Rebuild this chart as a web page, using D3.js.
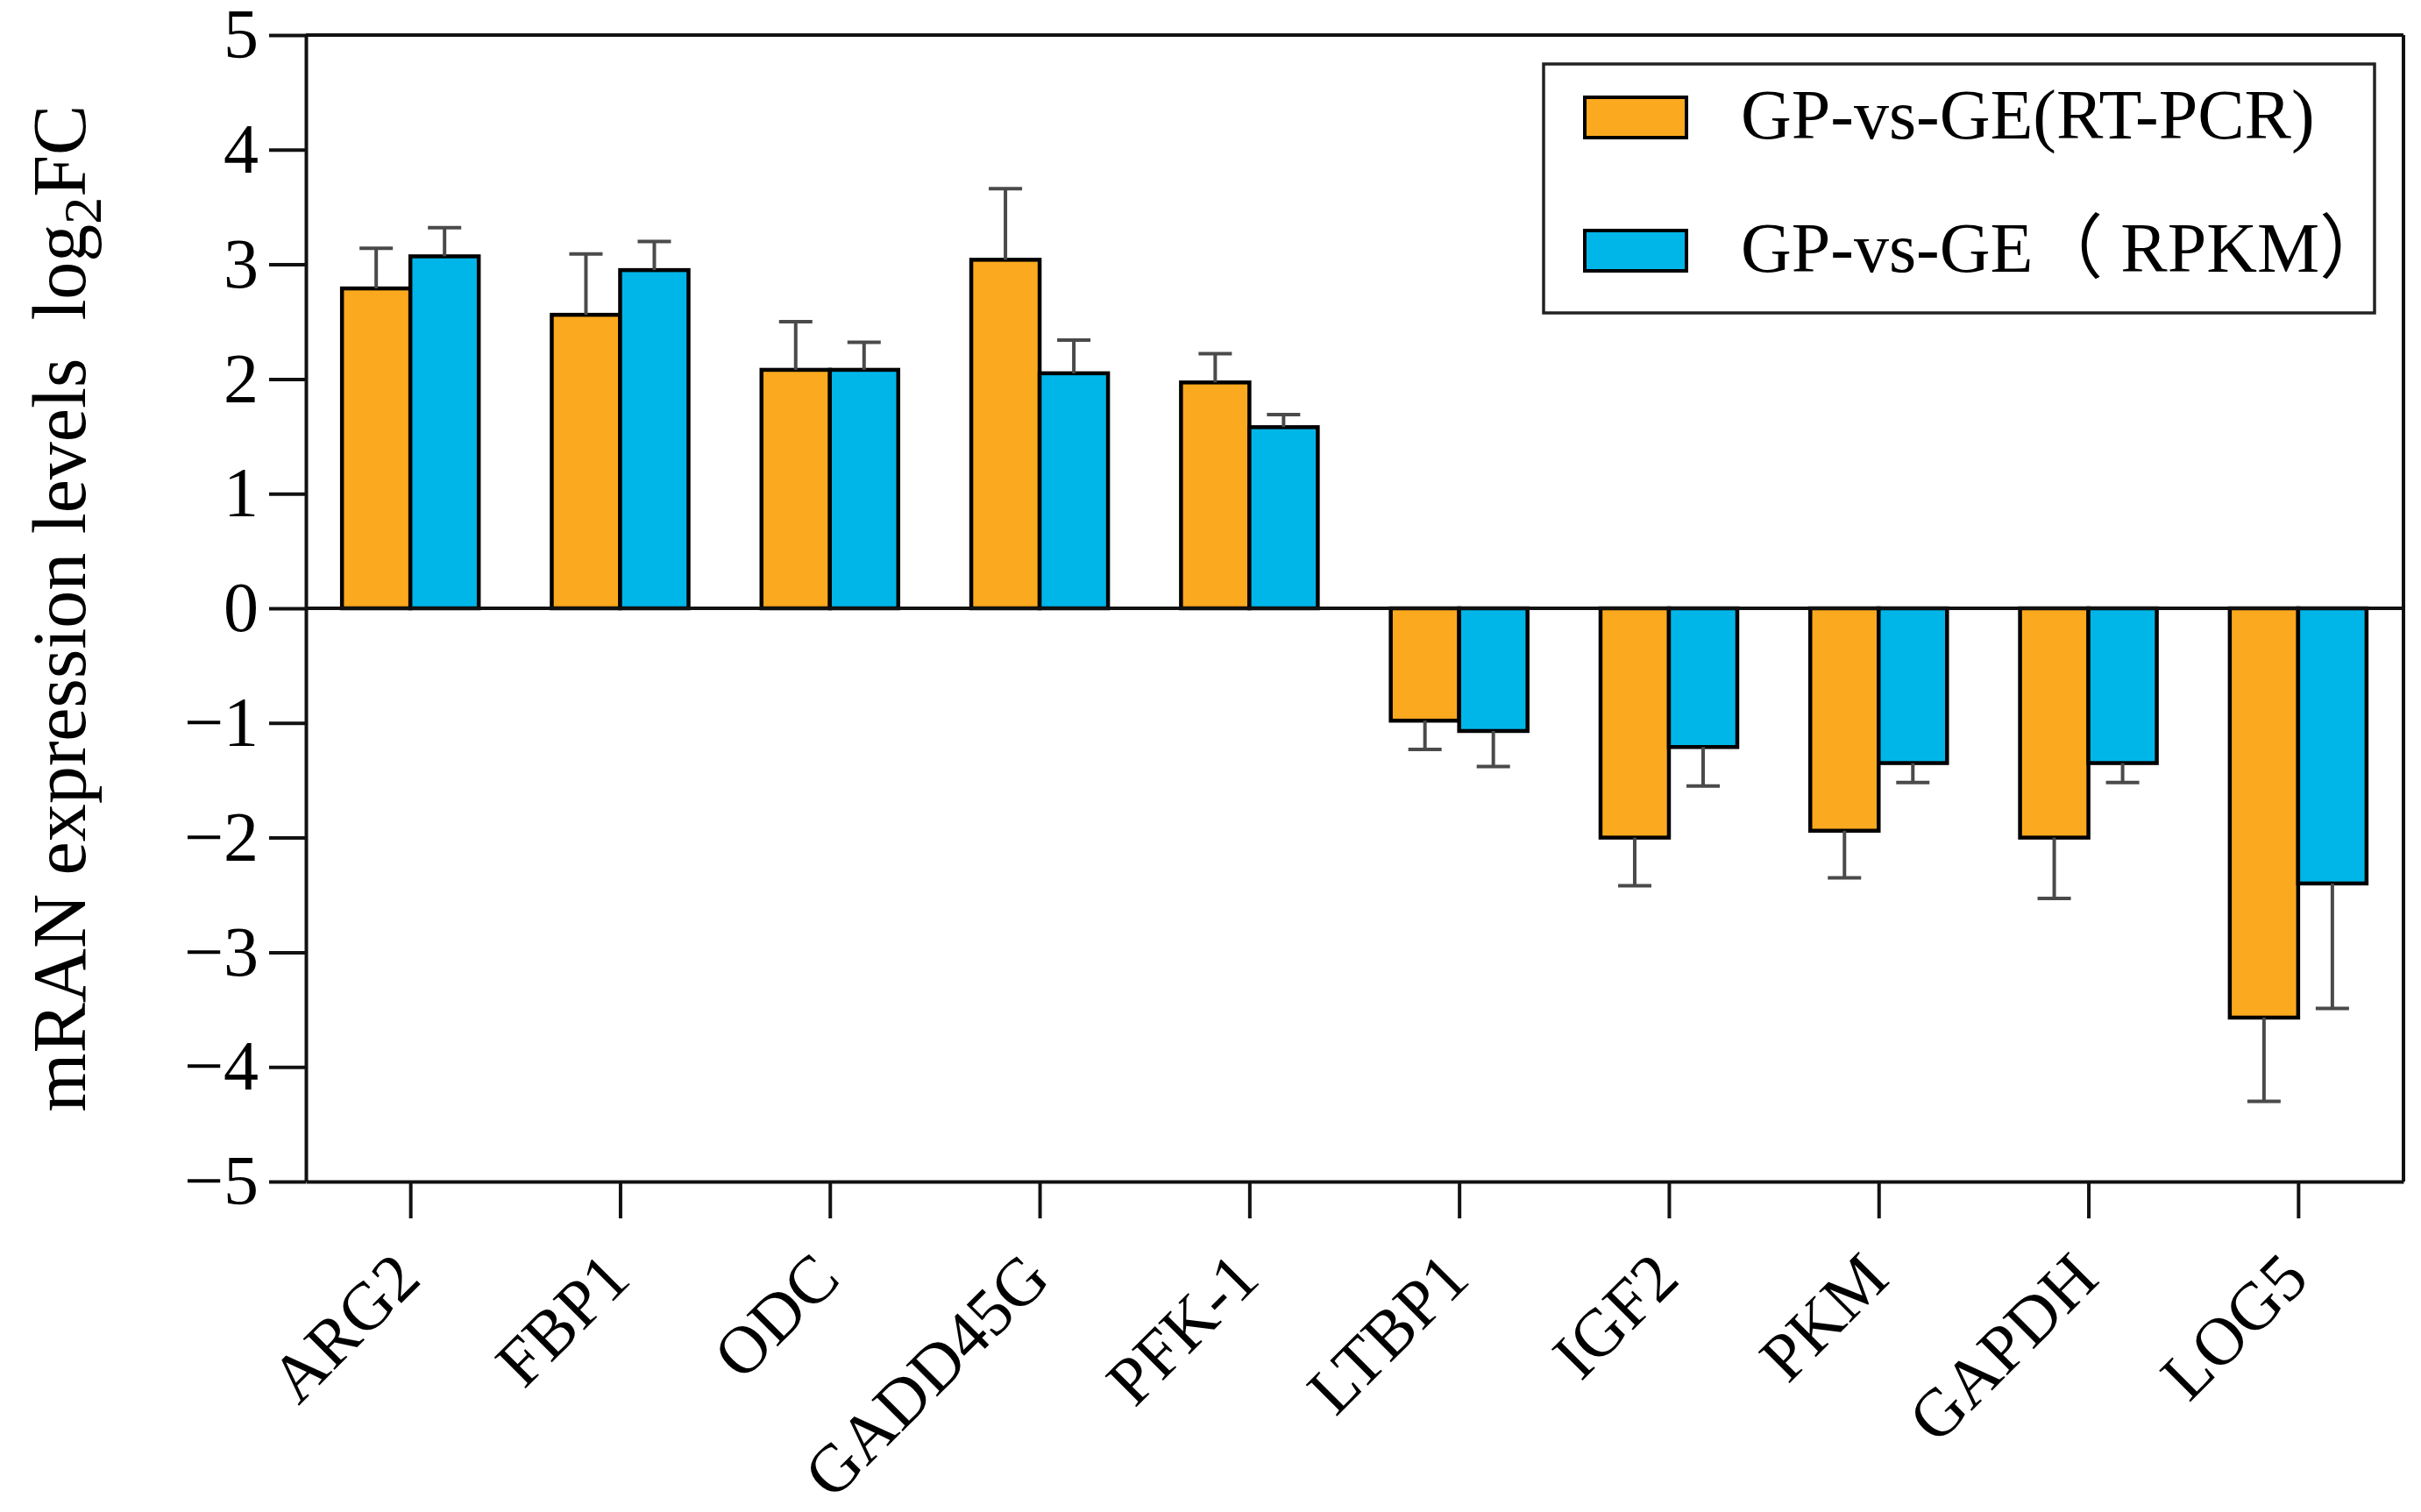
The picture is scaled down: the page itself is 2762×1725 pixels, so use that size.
<!DOCTYPE html>
<html>
<head>
<meta charset="utf-8">
<script src="https://cdn.jsdelivr.net/npm/d3@7"></script>
<style>
    body { margin: 0; background: #fff; }
    svg { display: block; }
    text { font-family: "Liberation Serif", "Times New Roman", "Noto Sans CJK SC", serif; fill: #000; }
</style>
</head>
<body>
<div id="chart"></div>
<script>
// gene names on the x axis
const genes = ['ARG2', 'FBP1', 'ODC', 'GADD45G', 'PFK-1', 'LTBP1', 'IGF2', 'PKM', 'GAPDH', 'LOG5'];
const seriesNames = ['GP-vs-GE(RT-PCR)', 'GP-vs-GE（ RPKM）'];

// log2FC values
const rtPcr = [2.79, 2.56, 2.08, 3.04, 1.97, -0.98, -2.00, -1.94, -2.00, -3.57];
const rtPcrErr = [0.35, 0.53, 0.42, 0.62, 0.25, 0.25, 0.42, 0.41, 0.53, 0.73];
const rpkm = [3.07, 2.95, 2.08, 2.05, 1.58, -1.07, -1.21, -1.35, -1.35, -2.40];
const rpkmErr = [0.25, 0.25, 0.24, 0.29, 0.11, 0.31, 0.34, 0.17, 0.17, 1.09];

const yTicks = [-5, -4, -3, -2, -1, 0, 1, 2, 3, 4, 5];
const colors = ['#FBA91E', '#00B6E9'];

const width = 2762, height = 1725;
const margin = {top: 40, right: 20, bottom: 377, left: 349};
const plotW = width - margin.left - margin.right;
const plotH = height - margin.top - margin.bottom;

const rows = genes.map((g, i) => ({
    gene: g,
    values: [
        {key: 0, value: rtPcr[i], err: rtPcrErr[i]},
        {key: 1, value: rpkm[i], err: rpkmErr[i]}
    ]
}));

const x0 = d3.scaleBand().domain(genes).range([0, plotW]);
const bw = x0.bandwidth();
const x1 = d3.scaleBand().domain([0, 1]).range([bw * 0.172, bw * 0.824]);
const y = d3.scaleLinear().domain([-5, 5]).range([plotH, 0]);

const svg = d3.select('#chart').append('svg')
    .attr('width', width)
    .attr('height', height);

const g = svg.append('g')
    .attr('transform', 'translate(' + margin.left + ',' + margin.top + ')');

// frame lines (top, right)
g.append('line')
    .attr('x1', 0).attr('x2', plotW)
    .attr('y1', y(5)).attr('y2', y(5))
    .attr('stroke', '#111').attr('stroke-width', 4);
g.append('line')
    .attr('x1', plotW).attr('x2', plotW)
    .attr('y1', y(5)).attr('y2', y(-5))
    .attr('stroke', '#111').attr('stroke-width', 4);

// bars
const groups = g.selectAll('.gene')
    .data(rows)
    .enter().append('g')
    .attr('class', 'gene')
    .attr('transform', d => 'translate(' + x0(d.gene) + ',0)');

groups.selectAll('rect')
    .data(d => d.values)
    .enter().append('rect')
    .attr('x', d => x1(d.key))
    .attr('width', x1.bandwidth())
    .attr('y', d => y(Math.max(0, d.value)))
    .attr('height', d => Math.abs(y(d.value) - y(0)))
    .attr('fill', d => colors[d.key])
    .attr('stroke', '#000')
    .attr('stroke-width', 4.5);

// error bars, drawn away from zero
const capW = 38;
const errs = groups.selectAll('.err')
    .data(d => d.values)
    .enter().append('g')
    .attr('class', 'err')
    .attr('stroke', '#4a4a4a')
    .attr('stroke-width', 4);

errs.append('line')
    .attr('x1', d => x1(d.key) + x1.bandwidth() / 2)
    .attr('x2', d => x1(d.key) + x1.bandwidth() / 2)
    .attr('y1', d => y(d.value))
    .attr('y2', d => y(d.value + Math.sign(d.value) * d.err));

errs.append('line')
    .attr('x1', d => x1(d.key) + x1.bandwidth() / 2 - capW / 2)
    .attr('x2', d => x1(d.key) + x1.bandwidth() / 2 + capW / 2)
    .attr('y1', d => y(d.value + Math.sign(d.value) * d.err))
    .attr('y2', d => y(d.value + Math.sign(d.value) * d.err));

// zero line
g.append('line')
    .attr('x1', 0).attr('x2', plotW)
    .attr('y1', y(0)).attr('y2', y(0))
    .attr('stroke', '#111').attr('stroke-width', 4);

// y axis
const yAxis = g.append('g')
    .call(d3.axisLeft(y).tickValues(yTicks).tickSize(42).tickSizeOuter(0).tickPadding(12));
yAxis.selectAll('path, line').attr('stroke', '#111').attr('stroke-width', 4);
yAxis.selectAll('text')
    .style('font-size', '80px')
    .attr('fill', '#000');

// x axis
const xAxis = g.append('g')
    .attr('transform', 'translate(0,' + plotH + ')')
    .call(d3.axisBottom(x0).tickSize(42).tickSizeOuter(0));
xAxis.selectAll('path, line').attr('stroke', '#111').attr('stroke-width', 4);
xAxis.selectAll('text')
    .style('font-size', '77px')
    .attr('fill', '#000')
    .attr('text-anchor', 'end')
    .attr('x', 0).attr('y', 0).attr('dy', 0)
    .attr('transform', 'translate(14,114) rotate(-45)');

// y axis title
const title = svg.append('text')
    .attr('transform', 'translate(97,694) rotate(-90)')
    .attr('text-anchor', 'middle')
    .style('font-size', '86px')
    .style('white-space', 'pre');
title.append('tspan').text('mRAN expression levels  log');
title.append('tspan').attr('dy', 18).style('font-size', '62px').text('2');
title.append('tspan').attr('dy', -18).text('FC');

// legend
const legend = svg.append('g');
legend.append('rect')
    .attr('x', 1761).attr('y', 73)
    .attr('width', 948).attr('height', 284)
    .attr('fill', '#fff')
    .attr('stroke', '#222')
    .attr('stroke-width', 3.5);

const items = legend.selectAll('.item')
    .data(seriesNames)
    .enter().append('g')
    .attr('class', 'item')
    .attr('transform', (d, i) => 'translate(1808,' + (111 + i * 152) + ')');

items.append('rect')
    .attr('width', 116).attr('height', 46)
    .attr('fill', (d, i) => colors[i])
    .attr('stroke', '#000')
    .attr('stroke-width', 4);

items.append('text')
    .attr('x', 178)
    .attr('y', 47)
    .style('font-size', '80px')
    .style('white-space', 'pre')
    .text(d => d);
</script>
</body>
</html>
